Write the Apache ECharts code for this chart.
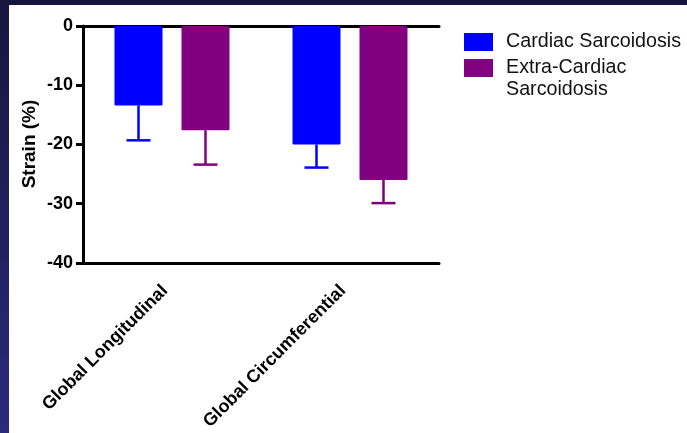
<!DOCTYPE html>
<html>
<head>
<meta charset="utf-8">
<script src="https://cdn.jsdelivr.net/npm/echarts@6/dist/echarts.min.js"></script>
<style>
  html, body { margin: 0; padding: 0; background: #fff; }
  #main { width: 687px; height: 433px; }
</style>
</head>
<body>
<div id="main"></div>
<script>
// data
const categories = ['Global Longitudinal', 'Global Circumferential'];
const seriesNames = ['Cardiac Sarcoidosis', 'Extra-Cardiac Sarcoidosis'];
const cardiacMean = [-13.4, -20.0];
const cardiacSd = [5.9, 3.9];
const extraMean = [-17.6, -26.0];
const extraSd = [5.8, 3.9];
const yTicks = [0, -10, -20, -30, -40];
const yTitle = 'Strain (%)';

const BAR_W = 48;
const GAP = 19;
const CAP = 24;

// error bar below the bar (only the lower whisker is drawn)
function errSeries(name, mean, sd, color, side) {
  const data = mean.map((m, i) => [i, m, m - sd[i]]);
  return {
    name: name,
    type: 'custom',
    z: 3,
    data: data,
    renderItem: function (params, api) {
      const off = side * (BAR_W + GAP) / 2;
      const p1 = api.coord([api.value(0), api.value(1)]);
      const p2 = api.coord([api.value(0), api.value(2)]);
      const x = p1[0] + off;
      return {
        type: 'group',
        children: [{
          type: 'line',
          shape: { x1: x, y1: p1[1], x2: x, y2: p2[1] },
          style: { stroke: color, lineWidth: 2.5 }
        }, {
          type: 'line',
          shape: { x1: x - CAP / 2, y1: p2[1], x2: x + CAP / 2, y2: p2[1] },
          style: { stroke: color, lineWidth: 2.5 }
        }]
      };
    }
  };
}

var myChart = echarts.init(document.getElementById('main'));
var option = {
  animation: false,
  backgroundColor: '#fff',
  graphic: [{
    type: 'rect',
    shape: { x: 0, y: 0, width: 687, height: 5 },
    style: { fill: '#14143c' }
  }, {
    type: 'rect',
    shape: { x: 0, y: 0, width: 9, height: 433 },
    style: {
      fill: new echarts.graphic.LinearGradient(0, 0, 0, 1, [
        { offset: 0, color: '#16163e' },
        { offset: 1, color: '#2a2a7c' }
      ])
    }
  }, {
    // y axis title
    type: 'text',
    x: 30,
    y: 144,
    rotation: Math.PI / 2,
    style: {
      text: yTitle,
      fontFamily: 'Liberation Sans', fontWeight: 'bold', fontSize: 19, fill: '#000',
      align: 'center', verticalAlign: 'middle'
    }
  }],
  grid: { left: 83, top: 26, right: 248, bottom: 170 },
  legend: {
    orient: 'vertical',
    left: 459,
    top: 27,
    itemWidth: 29,
    itemHeight: 18,
    itemGap: -16,
    icon: 'rect',
    data: seriesNames,
    formatter: function (name) {
      if (name === seriesNames[1]) {
        return '{t| }\n{t|Extra-Cardiac}\n{t|Sarcoidosis}';
      }
      return '{t|' + name + '}';
    },
    textStyle: {
      rich: {
        t: { fontFamily: 'Liberation Sans', fontSize: 19.7, color: '#111', lineHeight: 22, padding: [0, 0, 0, 8] }
      }
    }
  },
  xAxis: [{
    type: 'category',
    data: categories,
    axisLine: { onZero: false, lineStyle: { color: '#000', width: 3 } },
    axisTick: { alignWithLabel: true, length: 6, lineStyle: { color: '#000', width: 3 } },
    axisLabel: {
      rotate: 45, interval: 0, margin: 18, padding: [0, 10, 0, 0],
      fontFamily: 'Liberation Sans', fontWeight: 'bold', fontSize: 18, color: '#000'
    }
  }, {
    type: 'category',
    position: 'top',
    data: categories,
    axisLine: { show: true, onZero: false, lineStyle: { color: '#000', width: 3 } },
    axisTick: { show: false },
    axisLabel: { show: false }
  }],
  yAxis: {
    type: 'value',
    min: yTicks[yTicks.length - 1],
    max: yTicks[0],
    interval: 10,
    splitLine: { show: false },
    axisLine: { show: true, onZero: false, lineStyle: { color: '#000', width: 3 } },
    axisTick: { show: true, length: 7, lineStyle: { color: '#000', width: 3 } },
    axisLabel: { margin: 10, fontFamily: 'Liberation Sans', fontWeight: 'bold', fontSize: 18, color: '#000' }
  },
  series: [{
    name: seriesNames[0],
    type: 'bar',
    barWidth: BAR_W,
    barGap: (GAP / BAR_W * 100) + '%',
    itemStyle: { color: '#0000ff', borderRadius: 1 },
    data: cardiacMean
  }, {
    name: seriesNames[1],
    type: 'bar',
    barWidth: BAR_W,
    barGap: (GAP / BAR_W * 100) + '%',
    itemStyle: { color: '#800080', borderRadius: 1 },
    data: extraMean
  },
  errSeries(seriesNames[0], cardiacMean, cardiacSd, '#0000ff', -1),
  errSeries(seriesNames[1], extraMean, extraSd, '#800080', 1)
  ]
};
myChart.setOption(option);
</script>
</body>
</html>
